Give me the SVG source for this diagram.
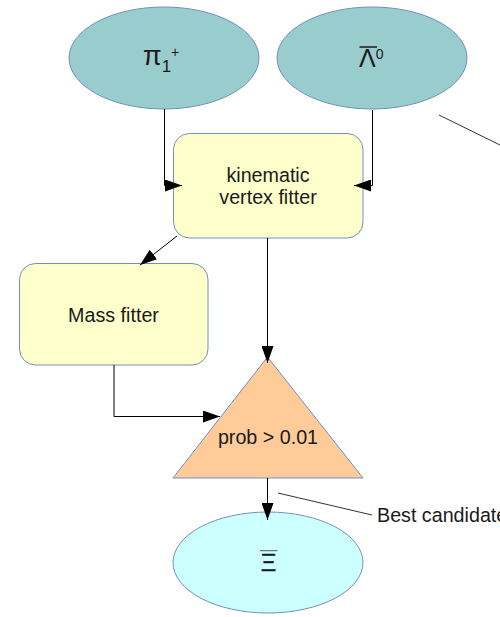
<svg xmlns="http://www.w3.org/2000/svg" width="500" height="617" viewBox="0 0 500 617">
<defs>
<style>
.node{stroke:#7090c0;stroke-width:1}
.ell{fill:#99cccc}
.box{fill:#ffffcc}
.tri{fill:#ffcc99}
.out{fill:#ccffff}
text{font-family:"Liberation Sans",Arial,sans-serif;fill:#1a1a1a}
.lbl{font-size:19.7px;text-anchor:middle}
.conn{fill:none;stroke:#000;stroke-width:1}
</style>
<marker id="ah" markerUnits="userSpaceOnUse" markerWidth="18" markerHeight="12" refX="17" refY="6" orient="auto">
<path d="M0,0 L17,6 L0,12 z" fill="#000"/>
</marker>
</defs>
<rect width="500" height="617" fill="#fff"/>
<g id="pi">
<ellipse class="node ell" cx="164" cy="58" rx="95" ry="51"/>
<text x="143" y="65" font-size="27">π<tspan font-size="17" dy="7">1</tspan><tspan font-size="14" dy="-15">+</tspan></text>
</g>
<g id="lambda">
<ellipse class="node ell" cx="372" cy="58" rx="95" ry="51"/>
<line x1="359.5" y1="47" x2="377" y2="47" stroke="#1a1a1a" stroke-width="1.5"/>
<text x="359" y="67" font-size="25">Λ<tspan font-size="14" dy="-8">0</tspan></text>
</g>
<g id="kinematic">
<rect class="node box" x="173.5" y="133.5" width="189.5" height="104.5" rx="16"/>
<text class="lbl" x="268" y="181.5">kinematic</text>
<text class="lbl" x="268" y="203.5">vertex fitter</text>
</g>
<g id="mass">
<rect class="node box" x="19.5" y="263.5" width="188.5" height="101.5" rx="16"/>
<text class="lbl" x="113.5" y="321.5">Mass fitter</text>
</g>
<g id="prob">
<polygon class="node tri" points="267.5,357 173,478 363,478"/>
<text class="lbl" x="268" y="444">prob &gt; 0.01</text>
</g>
<g id="xi">
<ellipse class="node out" cx="268" cy="562.5" rx="95" ry="50.5"/>
<line x1="260" y1="550.7" x2="277.5" y2="550.7" stroke="#555" stroke-width="1"/>
<text x="268.5" y="571" font-size="24" text-anchor="middle" stroke="#1a1a1a" stroke-width="0.4">Ξ</text>
</g>
<g id="connectors">
<polyline class="conn" points="164.5,109 164.5,185.5 182,185.5" marker-end="url(#ah)"/>
<polyline class="conn" points="372.5,110 372.5,185.5 354,185.5" marker-end="url(#ah)"/>
<line class="conn" x1="177" y1="236" x2="140" y2="265" marker-end="url(#ah)"/>
<line class="conn" x1="267.5" y1="238" x2="267.5" y2="363" marker-end="url(#ah)"/>
<polyline class="conn" points="114,365 114,416.5 220,416.5" marker-end="url(#ah)"/>
<line class="conn" x1="267.5" y1="478" x2="267.5" y2="520" marker-end="url(#ah)"/>
<line x1="278" y1="493" x2="372" y2="515" stroke="#333" stroke-width="1"/>
<line x1="439" y1="115" x2="500" y2="145" stroke="#333" stroke-width="1"/>
</g>
<text x="377" y="521.5" font-size="19.7">Best candidate</text>
</svg>
